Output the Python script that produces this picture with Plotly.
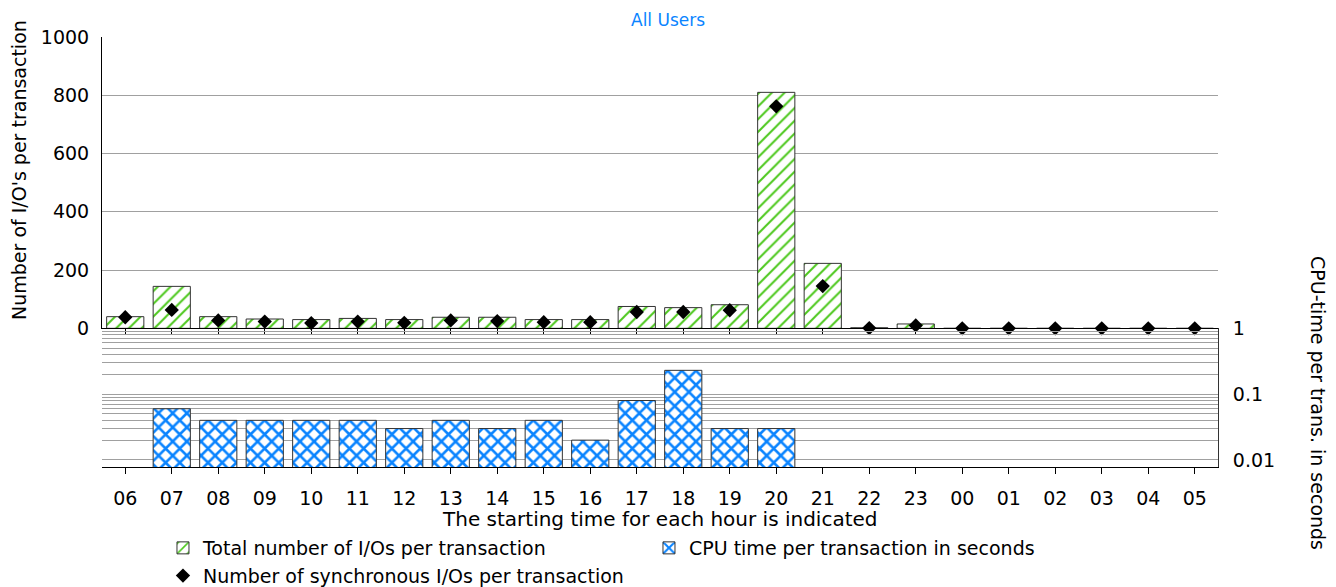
import plotly.graph_objects as go

hours = ["06", "07", "08", "09", "10", "11", "12", "13", "14", "15", "16", "17",
         "18", "19", "20", "21", "22", "23", "00", "01", "02", "03", "04", "05"]
total_ios = [40, 144, 40, 32, 30, 34, 30, 38, 38, 30, 30, 75,
             71, 81, 810, 223, 2, 15, 0, 0, 0, 0, 0, 0]
sync_ios = [38, 63, 27, 23, 18, 23, 19, 27, 25, 21, 21, 56,
            56, 62, 762, 145, 1, 10, 0, 0, 0, 0, 0, 0]
cpu_time = [None, 0.06, 0.04, 0.04, 0.04, 0.04, 0.03, 0.04, 0.03, 0.04, 0.02, 0.08,
            0.23, 0.03, 0.03, None, None, None, None, None, None, None, None, None]

left_ticks = [0, 200, 400, 600, 800, 1000]
right_ticks = [0.01, 0.1, 1]
right_tick_text = ["0.01", "0.1", "1"]

FONT = "DejaVu Sans"
GREEN = "#4CC81C"
BLUE = "#0A84FF"
GRID = "#A0A0A0"

fig = go.Figure()

fig.add_trace(go.Bar(
    x=hours, y=total_ios, xaxis="x", yaxis="y",
    name="Total number of I/Os per transaction",
    opacity=1,
    marker=dict(color="white", line=dict(color="#333333", width=1),
                pattern=dict(shape="/", fgcolor=GREEN, bgcolor="white",
                             fgopacity=1, size=9, solidity=0.22)),
    width=0.8, cliponaxis=False,
))
fig.add_trace(go.Bar(
    x=hours, y=cpu_time, xaxis="x2", yaxis="y2",
    name="CPU time per transaction in seconds",
    opacity=1,
    marker=dict(color="white", line=dict(color="#333333", width=1),
                pattern=dict(shape="x", fgcolor=BLUE, bgcolor="white",
                             fgopacity=1, size=10, solidity=0.45)),
    width=0.8,
))
fig.add_trace(go.Scatter(
    x=hours, y=sync_ios, xaxis="x", yaxis="y", mode="markers",
    name="Number of synchronous I/Os per transaction",
    marker=dict(symbol="diamond", color="black", size=11),
    cliponaxis=False,
))

minor_log = [0.02, 0.03, 0.04, 0.05, 0.06, 0.07, 0.08, 0.09,
             0.2, 0.3, 0.4, 0.5, 0.6, 0.7, 0.8, 0.9]

# the page body adds an 8px offset; margins compensate for it
fig.update_layout(
    width=1336, height=587,
    margin=dict(l=94, r=126, t=29, b=128, autoexpand=False),
    paper_bgcolor="white", plot_bgcolor="white",
    font=dict(family=FONT, size=19, color="black"),
    showlegend=True,
    legend=dict(orientation="h", xref="container", x=0.116, xanchor="left",
                yref="container", y=0.1124, yanchor="top",
                font=dict(family=FONT, size=19, color="black"),
                entrywidth=441, tracegroupgap=0, itemwidth=30,
                bgcolor="rgba(0,0,0,0)"),
    xaxis=dict(type="category", categoryorder="array", categoryarray=hours,
               anchor="y", domain=[0, 1], showticklabels=False, automargin=False,
               ticks="outside", ticklen=6, tickcolor="black",
               showline=True, linecolor="black", linewidth=1,
               showgrid=False, zeroline=False, range=[-0.5, 23.5]),
    yaxis=dict(domain=[0.3225, 1], range=[0, 1000], tickvals=left_ticks,
               anchor="x", showgrid=False, zeroline=False, automargin=False,
               showline=True, linecolor="black", linewidth=1,
               ticks="", ticklabelstandoff=8,
               minor=dict(tickvals=[200, 400, 600, 800], showgrid=True,
                          gridcolor=GRID, gridwidth=1, ticks="")),
    xaxis2=dict(type="category", categoryorder="array", categoryarray=hours,
                anchor="y2", domain=[0, 1], matches="x", automargin=False,
                ticks="outside", ticklen=6, tickcolor="black",
                ticklabelstandoff=8,
                showline=True, linecolor="black", linewidth=1,
                showgrid=False, zeroline=False, range=[-0.5, 23.5]),
    yaxis2=dict(domain=[0, 0.3225], type="log", range=[-2.107, 0],
                anchor="x2", side="right", tickvals=right_ticks, automargin=False,
                ticktext=right_tick_text, ticks="", ticklabelstandoff=10,
                showgrid=True, gridcolor=GRID, gridwidth=1, zeroline=False,
                showline=True, linecolor="#333333", linewidth=1,
                minor=dict(tickvals=minor_log, showgrid=True,
                           gridcolor=GRID, gridwidth=1, ticks="")),
    annotations=[
        dict(text="All Users", xref="paper", yref="paper", x=0.5072, y=1.0674,
             xanchor="center", yanchor="top", showarrow=False,
             font=dict(family=FONT, size=17, color=BLUE)),
        dict(text="Number of I/O's per transaction", xref="paper",
             yref="paper", x=-0.0744, y=0.6907, xanchor="center",
             yanchor="middle", textangle=-90, showarrow=False,
             font=dict(family=FONT, size=19, color="black")),
        dict(text="CPU-time per trans. in seconds", xref="paper",
             yref="paper", x=1.0896, y=0.1488, xanchor="center",
             yanchor="middle", textangle=90, showarrow=False,
             font=dict(family=FONT, size=19, color="black")),
        dict(text="The starting time for each hour is indicated", xref="paper",
             yref="paper", x=0.5, y=-0.121, xanchor="center",
             yanchor="middle", showarrow=False,
             font=dict(family=FONT, size=20, color="black")),
    ],
)

fig.write_html("out.html")
